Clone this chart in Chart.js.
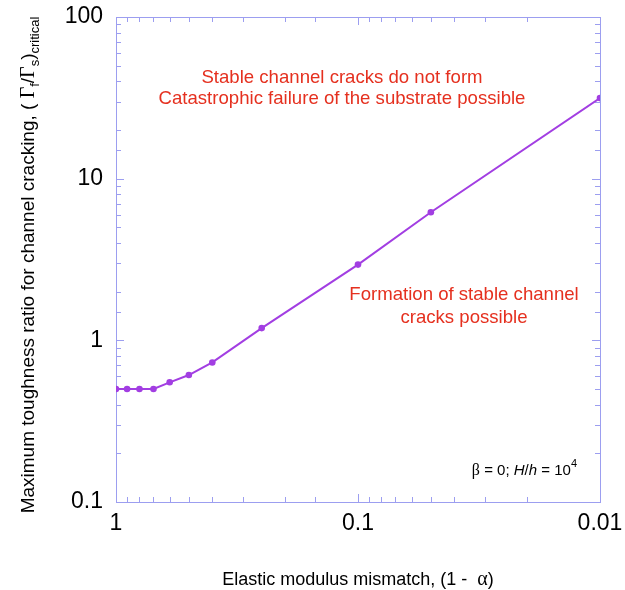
<!DOCTYPE html>
<html>
<head>
<meta charset="utf-8">
<script src="https://cdn.jsdelivr.net/npm/chart.js@4.4.0/dist/chart.umd.min.js"></script>
<style>
  html, body { margin: 0; padding: 0; background: #fff; }
  #wrap { width: 625px; height: 590px; }
</style>
</head>
<body>
<div id="wrap"><canvas id="chart" width="625" height="590"></canvas></div>
<script>
// elastic modulus mismatch (1 - alpha), shown on a reversed log axis
const mismatch = [1, 0.9, 0.8, 0.7, 0.6, 0.5, 0.4, 0.25, 0.1, 0.05, 0.01];
// maximum toughness ratio (Gamma_f / Gamma_s) critical
const toughnessRatio = [0.5, 0.5, 0.5, 0.5, 0.55, 0.61, 0.73, 1.19, 2.94, 6.2, 31.5];
const xTickLabels = [1, 0.1, 0.01];
const yTickLabels = [0.1, 1, 10, 100];

const SANS = '"Liberation Sans", Arial, sans-serif';
const SERIF = '"Liberation Serif", "Times New Roman", serif';
const AXIS = '#9c9ef0';
const PURPLE = '#a23ee2';
const RED = '#e5301f';

const isDecade = v => Math.abs(Math.log10(v) - Math.round(Math.log10(v))) < 1e-6;
const labelFor = list => v => {
  const hit = list.find(l => Math.abs(l - v) / l < 1e-6);
  return hit === undefined ? '' : String(hit);
};

// draws a run of text pieces, each with its own font and baseline shift
function drawRuns(ctx, runs, x, y, align) {
  let total = 0;
  runs.forEach(r => { ctx.font = r.f; r.w = ctx.measureText(r.t).width; total += r.w; });
  let cx = align === 'center' ? x - total / 2 : align === 'right' ? x - total : x;
  runs.forEach(r => {
    ctx.font = r.f;
    ctx.fillText(r.t, cx, y + (r.dy || 0));
    cx += r.w;
  });
}

const frame = {
  id: 'frame',
  beforeDatasetsDraw(chart) {
    const { ctx, chartArea: a, scales: { x, y } } = chart;
    ctx.save();
    ctx.strokeStyle = AXIS;
    ctx.lineWidth = 1;
    ctx.strokeRect(a.left + 0.5, a.top + 0.5, a.right - a.left, a.bottom - a.top);
    ctx.beginPath();
    x.ticks.forEach(t => {
      const px = Math.round(x.getPixelForValue(t.value)) + 0.5;
      const len = isDecade(t.value) ? 8 : 5;
      ctx.moveTo(px, a.bottom); ctx.lineTo(px, a.bottom - len);
      ctx.moveTo(px, a.top); ctx.lineTo(px, a.top + len);
    });
    y.ticks.forEach(t => {
      const py = Math.round(y.getPixelForValue(t.value)) + 0.5;
      const len = isDecade(t.value) ? 8 : 5;
      ctx.moveTo(a.left, py); ctx.lineTo(a.left + len, py);
      ctx.moveTo(a.right, py); ctx.lineTo(a.right - len, py);
    });
    ctx.stroke();
    ctx.restore();
  },
  afterDraw(chart) {
    const { ctx } = chart;
    ctx.save();
    ctx.textBaseline = 'alphabetic';

    // axis titles
    ctx.fillStyle = '#000';
    drawRuns(ctx, [
      { t: 'Elastic modulus mismatch, (1 -  ', f: '18px ' + SANS },
      { t: 'α', f: '20px ' + SERIF },
      { t: ')', f: '18px ' + SANS }
    ], 358, 585, 'center');

    ctx.save();
    ctx.translate(34, 265);
    ctx.rotate(-Math.PI / 2);
    drawRuns(ctx, [
      { t: 'Maximum toughness ratio for channel cracking, ( ', f: '19px ' + SANS },
      { t: 'Γ', f: '20px ' + SERIF },
      { t: 'f', f: '13px ' + SANS, dy: 5 },
      { t: '/', f: '19px ' + SANS },
      { t: 'Γ', f: '20px ' + SERIF },
      { t: 's', f: '13px ' + SANS, dy: 5 },
      { t: ')', f: '19px ' + SANS },
      { t: 'critical', f: '13px ' + SANS, dy: 5 }
    ], 0, 0, 'center');
    ctx.restore();

    // region notes
    ctx.fillStyle = RED;
    ctx.font = '18.6px ' + SANS;
    ctx.textAlign = 'center';
    ctx.fillText('Stable channel cracks do not form', 342, 83);
    ctx.fillText('Catastrophic failure of the substrate possible', 342, 104);
    ctx.fillText('Formation of stable channel', 464, 300);
    ctx.fillText('cracks possible', 464, 323);
    ctx.textAlign = 'left';

    ctx.fillStyle = '#000';
    drawRuns(ctx, [
      { t: 'β', f: '16px ' + SERIF },
      { t: ' = 0; ', f: '15px ' + SANS },
      { t: 'H', f: 'italic 15px ' + SANS },
      { t: '/', f: '15px ' + SANS },
      { t: 'h', f: 'italic 15px ' + SANS },
      { t: ' = 10', f: '15px ' + SANS },
      { t: '4', f: '11px ' + SANS, dy: -8 }
    ], 577, 475, 'right');
    ctx.restore();
  }
};

const fixBox = (w, h) => scale => {
  if (w !== undefined) scale.width = w;
  if (h !== undefined) scale.height = h;
  scale.paddingLeft = scale.paddingRight = scale.paddingTop = scale.paddingBottom = 0;
};

new Chart(document.getElementById('chart'), {
  type: 'line',
  data: {
    datasets: [{
      data: mismatch.map((m, i) => ({ x: m, y: toughnessRatio[i] })),
      borderColor: PURPLE,
      backgroundColor: PURPLE,
      borderWidth: 2,
      pointRadius: 3.3,
      pointBorderWidth: 0,
      tension: 0
    }]
  },
  options: {
    responsive: false,
    animation: false,
    layout: { padding: { top: 17, right: 25, bottom: 0, left: 0 } },
    plugins: { legend: { display: false }, tooltip: { enabled: false } },
    scales: {
      x: {
        type: 'logarithmic',
        reverse: true,
        min: 0.01,
        max: 1,
        afterFit: fixBox(undefined, 88),
        grid: { display: false },
        border: { display: false },
        ticks: {
          autoSkip: false,
          maxRotation: 0,
          padding: 0,
          color: '#000',
          font: { family: SANS, size: 23 },
          callback: labelFor(xTickLabels)
        }
      },
      y: {
        type: 'logarithmic',
        min: 0.1,
        max: 100,
        afterFit: fixBox(116, undefined),
        grid: { display: false },
        border: { display: false },
        ticks: {
          autoSkip: false,
          padding: 5,
          color: '#000',
          font: { family: SANS, size: 23 },
          callback: labelFor(yTickLabels)
        }
      }
    }
  },
  plugins: [frame]
});
</script>
</body>
</html>
